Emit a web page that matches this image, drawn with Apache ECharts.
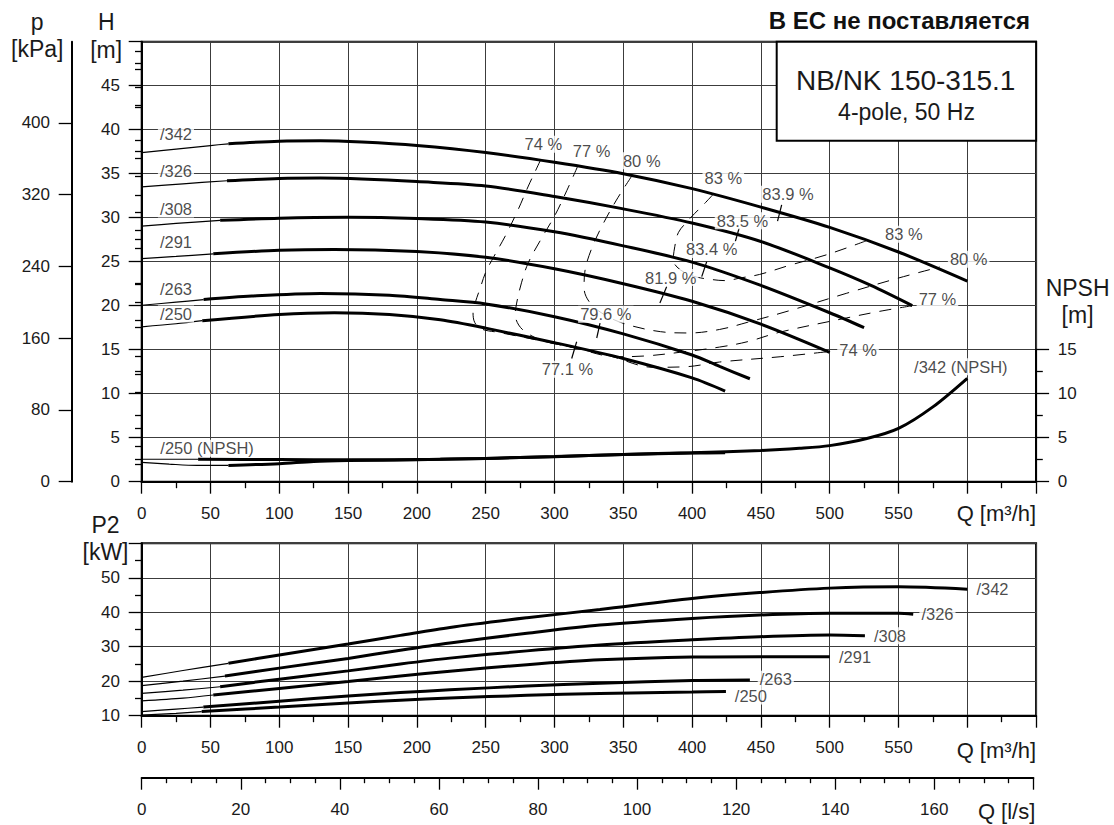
<!DOCTYPE html>
<html>
<head>
<meta charset="utf-8">
<script src="https://cdn.jsdelivr.net/npm/echarts@6.0.0/dist/echarts.min.js"></script>
<style>html,body{margin:0;padding:0;background:#fff}#c{width:1114px;height:825px}</style>
</head>
<body>
<div id="c"></div>
<script>
// ---------------- DATA ----------------
const curveNames = ['/342', '/326', '/308', '/291', '/263', '/250'];

// Q-H curves  [Q m3/h, H m]
const qh342 = [[0,37.4],[25,37.8],[50,38.2],[63,38.4],[100,38.7],[130,38.75],[160,38.6],[200,38.2],[250,37.4],[300,36.3],[350,35.0],[400,33.3],[450,31.2],[500,28.9],[550,26.1],[600,22.8]];
const qh326 = [[0,33.5],[30,33.85],[62,34.2],[100,34.45],[130,34.5],[160,34.4],[200,34.1],[250,33.6],[300,32.4],[350,31.0],[400,29.4],[450,27.3],[500,24.3],[530,22.3],[560,20.0]];
const qh308 = [[0,29.05],[25,29.35],[57,29.7],[100,29.95],[150,30.05],[200,29.9],[250,29.5],[300,28.4],[350,26.8],[400,24.95],[450,22.3],[500,19.2],[525,17.5]];
const qh291 = [[0,25.35],[25,25.6],[52,25.9],[100,26.3],[140,26.4],[200,26.15],[250,25.5],[300,24.2],[350,22.5],[400,20.5],[450,17.9],[500,14.7]];
const qh263 = [[0,20.05],[25,20.4],[45,20.7],[80,21.1],[130,21.4],[180,21.2],[217,20.7],[250,20.2],[300,18.75],[350,16.8],[400,14.4],[420,13.1],[442,11.7]];
const qh250 = [[0,17.6],[25,17.95],[44,18.3],[100,19.0],[140,19.2],[180,19.0],[217,18.4],[250,17.45],[300,15.8],[350,14.0],[400,11.8],[424,10.3]];
const qhThickFrom = [63, 62, 57, 52, 45, 44];

// NPSH curves [Q, NPSH m]
const npsh250 = [[0,2.55],[41,2.55],[100,2.52],[150,2.5],[217,2.55],[300,2.84],[350,3.1],[400,3.25],[424,3.3]];
const npsh342 = [[0,2.2],[20,2.0],[40,1.85],[63,1.85],[100,2.05],[125,2.3],[150,2.4],[200,2.5],[250,2.65],[300,2.85],[350,3.1],[400,3.3],[450,3.55],[478,3.8],[500,4.1],[527,4.9],[550,6.05],[575,8.5],[600,11.75]];
const npshThickFrom = [41, 63];

// Power curves [Q, P2 kW]
const p342 = [[0,21.1],[30,23.1],[63,25.2],[100,27.6],[150,30.8],[188,33.3],[224,35.6],[280,38.4],[333,40.8],[400,44.0],[449,45.7],[500,47.0],[550,47.4],[600,46.7]];
const p326 = [[0,18.7],[30,20.0],[60.5,21.5],[100,23.8],[150,26.6],[188,29.0],[224,31.1],[280,33.9],[333,36.3],[400,38.2],[449,39.2],[500,39.7],[550,39.7],[560.7,39.4]];
const p308 = [[0,16.5],[30,17.4],[57,18.4],[100,20.6],[150,23.0],[188,25.0],[224,26.7],[280,28.8],[333,30.5],[400,32.0],[449,32.9],[500,33.4],[525.6,33.2]];
const p291 = [[0,14.3],[30,15.1],[52,16.0],[100,17.9],[150,19.9],[188,21.5],[224,22.9],[280,24.8],[333,26.2],[400,27.0],[449,27.1],[500,27.1]];
const p263 = [[0,11.2],[25,11.9],[44.8,12.5],[100,14.2],[150,15.7],[188,16.7],[224,17.5],[280,18.6],[333,19.4],[400,20.2],[442,20.35]];
const p250 = [[0,10.2],[25,10.7],[43.6,11.2],[100,12.5],[150,13.7],[188,14.5],[224,15.15],[280,15.9],[333,16.45],[400,16.85],[424.6,17.0]];
const pThickFrom = [63, 60.5, 57, 52, 44.8, 43.6];

// Iso-efficiency contours [Q, H]
const eff74 = [[290,36.6],[285.8,35.2],[281,33.6],[273.5,30.9],[264.5,28.0],[256,25.6],[250,23.8],[246,22.0],[242.5,20.4],[240.8,19.3],[242,18.1],[247,17.35],[260,16.95],[300,15.7],[340,14.3],[372,13.0],[396,13.07],[420,13.6],[464,14.2],[500,14.8]];
const eff77 = [[317,35.9],[309,33.1],[300.4,30.3],[290,27.5],[281,24.9],[276,22.6],[272.5,20.3],[271.5,19.0],[274,17.8],[280,16.9],[291,16.05],[315,15.2],[345,14.2],[367,14.3],[391,14.7],[420,15.3],[440,15.9],[464,17.0],[512,18.6],[536,19.35],[560,20.0]];
const eff80 = [[356,34.7],[345,32.0],[335,29.2],[327,26.5],[322,23.8],[321.5,22.0],[325,20.5],[334,19.2],[350,18.0],[377,17.05],[398,16.9],[420,17.3],[440,18.1],[470,19.4],[512,21.4],[549,23.1],[580,24.4]];
const eff83 = [[415,32.6],[409,31.6],[402,30.5],[396,29.5],[390,28.3],[387.4,26.7],[386.3,25.2],[389,24.4],[396,23.65],[403.4,23.25],[413,23.0],[424,22.85],[435,23.15],[449,23.55],[471,24.6],[498,25.8],[527,27.4]];
const effContours = [eff74, eff77, eff80, eff83];

// Best-efficiency tick marks crossing each Q-H curve
const bepTicks = [
  [[465.1,31.45],[462.1,29.6]],
  [[434.2,28.83],[431.3,27.24]],
  [[410.6,25.0],[407.0,23.3]],
  [[381.5,22.16],[376.6,20.3]],
  [[333.1,18.03],[330.7,16.33]],
  [[316.1,15.9],[312.5,14.0]]
];

// Annotation texts anchored in data coordinates
const effLabelText = ['74 %','77 %','80 %','83 %','83.9 %','83.5 %','83.4 %','81.9 %','79.6 %','77.1 %','83 %','80 %','77 %','74 %'];
const effLabelQ = [291.9,327,363.4,422.7,469.7,436.6,414.2,384.5,337.3,309.4,553.9,601,578.3,520.6];
const effLabelH = [38.34,37.6,36.47,34.53,32.67,29.65,26.4,23.2,19.03,12.78,28.13,25.28,20.74,15.0];
const qhLabelQ = [24.9,24.9,24.9,24.9,24.9,24.9];
const qhLabelH = [39.5,35.3,31.0,27.2,21.9,19.05];
const npshLabelText = ['/250 (NPSH)','/342 (NPSH)'];
const npshLabelQ = [47.5,595.3];
const npshLabelH = [3.8,13.07];
const pLabelQ = [618.3,578.3,543.8,518.4,460.8,442.7];
const pLabelP = [46.66,39.4,33.2,27.1,20.55,15.7];

// Tick labels
const qTicks = [0,50,100,150,200,250,300,350,400,450,500,550];
const hTicks = [0,5,10,15,20,25,30,35,40,45];
const pTicks = [0,80,160,240,320,400];
const pMinorTicks = [20,40,60,100,120,140,180,200,220,260,280,300,340,360,380,420,440,460,480];
const npshTicks = [0,5,10,15];
const p2Ticks = [10,20,30,40,50];
const lsTicks = [0,20,40,60,80,100,120,140,160];

// ---------------- CHART ----------------
const FONT = "'Liberation Sans', Arial, Helvetica, sans-serif";
const TXT = '#1a1a1a';
const BLK = '#000';
const GRIDC = '#3c3c3c';
const Q_MAX = 650, LS_MAX = 180;
const PLOT_L = 141.7, PLOT_W = 894.4;
const H_MAX_M = 50, KPA_PER_M = 9.80665;

const tickStyle = {color: BLK, width: 1.3};
const lblStyle = {color: TXT, fontSize: 17, fontFamily: FONT};
const nameStyleBase = {color: TXT, fontFamily: FONT, fontSize: 23};

function xName(text, lineH) {
  return {
    name: '\n' + text, nameLocation: 'end', nameGap: 0,
    nameTextStyle: Object.assign({}, nameStyleBase, {fontSize: 22, lineHeight: lineH, align: 'right', verticalAlign: 'top'})
  };
}

function xAxisMain(gi, lineH) {
  return Object.assign({
    type: 'value', gridIndex: gi, min: 0, max: Q_MAX, interval: 50,
    axisLine: {show: true, onZero: false, lineStyle: {color: BLK, width: 2}},
    axisTick: {show: true, length: 12, lineStyle: tickStyle},
    minorTick: {show: true, splitNumber: 2, length: 6.5, lineStyle: tickStyle},
    splitLine: {show: true, lineStyle: {color: GRIDC, width: 1}},
    axisLabel: Object.assign({customValues: qTicks, margin: 23}, lblStyle)
  }, xName('Q [m³/h]', lineH));
}

const series = [];
function addLine(data, xi, yi, width, extra) {
  series.push(Object.assign({
    type: 'line', xAxisIndex: xi, yAxisIndex: yi, data: data,
    symbol: 'none', showSymbol: false, smooth: 0.3, silent: true, z: 3,
    lineStyle: {color: BLK, width: width}
  }, extra || {}));
}
function splitThin(pts, q0) { return pts.filter(p => p[0] <= q0); }
function splitThick(pts, q0) { return pts.filter(p => p[0] >= q0); }

// efficiency contours (dashed)
effContours.forEach(c => addLine(c, 0, 0, 1, {smooth: 0.35, z: 2, lineStyle: {color: BLK, width: 1, type: [12, 9]}}));
// BEP ticks
bepTicks.forEach(t => addLine(t, 0, 0, 1.2, {smooth: false, z: 4}));
// Q-H curves
[qh342, qh326, qh308, qh291, qh263, qh250].forEach((c, i) => {
  addLine(splitThin(c, qhThickFrom[i]), 0, 0, 1.2);
  addLine(splitThick(c, qhThickFrom[i]), 0, 0, 3, {name: curveNames[i]});
});
// NPSH curves (on NPSH axis grid)
[npsh250, npsh342].forEach((c, i) => {
  addLine(splitThin(c, npshThickFrom[i]), 2, 3, 1.2);
  addLine(splitThick(c, npshThickFrom[i]), 2, 3, 3);
});
// Power curves
[p342, p326, p308, p291, p263, p250].forEach((c, i) => {
  addLine(splitThin(c, pThickFrom[i]), 1, 4, 1.2);
  addLine(splitThick(c, pThickFrom[i]), 1, 4, 3);
});

function labelSeries(texts, xs, ys, xi, yi) {
  series.push({
    type: 'scatter', xAxisIndex: xi, yAxisIndex: yi, symbolSize: 0, silent: true, z: 10,
    itemStyle: {color: 'rgba(0,0,0,0)'},
    data: texts.map((t, k) => ({name: t, value: [xs[k], ys[k]]})),
    label: {show: true, position: 'inside', formatter: '{b}', color: TXT, fontSize: 16.5, fontFamily: FONT,
            backgroundColor: '#fff', padding: [0, 2, 0, 2]}
  });
}
labelSeries(effLabelText, effLabelQ, effLabelH, 0, 0);
labelSeries(curveNames, qhLabelQ, qhLabelH, 0, 0);
labelSeries(npshLabelText, npshLabelQ, npshLabelH, 2, 3);
labelSeries(curveNames, pLabelQ, pLabelP, 1, 4);

const option = {
  animation: false,
  backgroundColor: '#fff',
  textStyle: {fontFamily: FONT},
  grid: [
    {left: PLOT_L, width: PLOT_W, top: 41.7, height: 440, show: true, borderColor: BLK, borderWidth: 2, backgroundColor: 'transparent', outerBoundsMode: 'none'},
    {left: PLOT_L, width: PLOT_W, top: 543.3, height: 172.4, show: true, borderColor: BLK, borderWidth: 2, backgroundColor: 'transparent', outerBoundsMode: 'none'},
    {left: PLOT_L, width: PLOT_W, top: 481.7 - 15 * 8.8, height: 15 * 8.8, outerBoundsMode: 'none'},
    {left: PLOT_L, width: PLOT_W * LS_MAX * 3.6 / Q_MAX, top: 760, height: 17.7, outerBoundsMode: 'none'}
  ],
  xAxis: [
    xAxisMain(0, 21.5),
    xAxisMain(1, 22.9),
    {type: 'value', gridIndex: 2, min: 0, max: Q_MAX, show: false},
    Object.assign({type: 'value', gridIndex: 3, min: 0, max: LS_MAX, interval: 20,
     axisLine: {show: true, onZero: false, lineStyle: {color: BLK, width: 2}},
     axisTick: {show: true, length: 12, lineStyle: tickStyle},
     minorTick: {show: true, splitNumber: 4, length: 5.5, lineStyle: tickStyle},
     splitLine: {show: false},
     axisLabel: Object.assign({customValues: lsTicks, margin: 23}, lblStyle)}, xName('Q [l/s]', 22.7), {nameGap: 2})
  ],
  yAxis: [
    {type: 'value', gridIndex: 0, min: 0, max: H_MAX_M, interval: 5, position: 'left',
     axisLine: {show: true, onZero: false, lineStyle: {color: BLK, width: 2}},
     axisTick: {show: true, length: 13, lineStyle: tickStyle},
     minorTick: {show: true, splitNumber: 2, length: 6.7, lineStyle: tickStyle},
     splitLine: {show: true, lineStyle: {color: GRIDC, width: 1}},
     axisLabel: Object.assign({customValues: hTicks, margin: 21.7}, lblStyle),
     name: 'H\n[m]', nameLocation: 'end', nameGap: -22,
     nameTextStyle: Object.assign({}, nameStyleBase, {lineHeight: 28, align: 'center', verticalAlign: 'bottom', padding: [0, 71, 0, 0]})},
    {type: 'value', gridIndex: 0, min: 0, max: H_MAX_M * KPA_PER_M, position: 'left', offset: 70,
     axisLine: {show: true, onZero: false, lineStyle: {color: BLK, width: 2}},
     axisTick: {show: true, customValues: pTicks, length: 13, lineStyle: tickStyle},
     splitLine: {show: false},
     axisLabel: Object.assign({customValues: pTicks, margin: 21.7}, lblStyle),
     name: 'p\n[kPa]', nameLocation: 'end', nameGap: -21,
     nameTextStyle: Object.assign({}, nameStyleBase, {lineHeight: 27, align: 'center', verticalAlign: 'bottom', padding: [0, 69, 0, 0]})},
    {type: 'value', gridIndex: 0, min: 0, max: H_MAX_M * KPA_PER_M, position: 'left', offset: 70,
     axisLine: {show: false},
     axisTick: {show: true, customValues: pMinorTicks, length: 6.7, lineStyle: tickStyle},
     splitLine: {show: false}, axisLabel: {show: false}},
    {type: 'value', gridIndex: 2, min: 0, max: 15, interval: 5, position: 'right',
     axisLine: {show: true, onZero: false, lineStyle: {color: BLK, width: 2}},
     axisTick: {show: true, length: 13, lineStyle: tickStyle},
     minorTick: {show: true, splitNumber: 2, length: 6.7, lineStyle: tickStyle},
     splitLine: {show: false},
     axisLabel: Object.assign({customValues: npshTicks, margin: 21.7}, lblStyle),
     name: 'NPSH\n[m]', nameLocation: 'end', nameGap: 21.2,
     nameTextStyle: Object.assign({}, nameStyleBase, {lineHeight: 27, align: 'center', verticalAlign: 'bottom', padding: [0, 0, 0, 83]})},
    {type: 'value', gridIndex: 1, min: 10, max: 60, interval: 10, position: 'left',
     axisLine: {show: true, onZero: false, lineStyle: {color: BLK, width: 2}},
     axisTick: {show: true, length: 13, lineStyle: tickStyle},
     minorTick: {show: true, splitNumber: 2, length: 6.7, lineStyle: tickStyle},
     splitLine: {show: true, lineStyle: {color: GRIDC, width: 1}},
     axisLabel: Object.assign({customValues: p2Ticks, margin: 21.7}, lblStyle),
     name: 'P2\n[kW]', nameLocation: 'end', nameGap: -21.9,
     nameTextStyle: Object.assign({}, nameStyleBase, {lineHeight: 27, align: 'center', verticalAlign: 'bottom', padding: [0, 72.4, 0, 0]})},
    {type: 'value', gridIndex: 3, min: 0, max: 1, show: false}
  ],
  graphic: [
    {type: 'text', x: 1030, y: 20, z: 100,
     style: {text: 'В ЕС не поставляется', fontSize: 24, fontWeight: 'bold', fontFamily: FONT, fill: '#111', align: 'right', verticalAlign: 'middle'}},
    {type: 'rect', z: 100, shape: {x: 776.7, y: 41.7, width: 259.4, height: 99},
     style: {fill: '#fff', stroke: BLK, lineWidth: 2}},
    {type: 'text', x: 905.7, y: 80, z: 101,
     style: {text: 'NB/NK 150-315.1', fontSize: 28, fontFamily: FONT, fill: TXT, align: 'center', verticalAlign: 'middle'}},
    {type: 'text', x: 906.5, y: 111.7, z: 101,
     style: {text: '4-pole, 50 Hz', fontSize: 23, fontFamily: FONT, fill: TXT, align: 'center', verticalAlign: 'middle'}}
  ],
  series: series
};

const chart = echarts.init(document.getElementById('c'), null, {renderer: 'svg', width: 1114, height: 825});
chart.setOption(option);
</script>
</body>
</html>
